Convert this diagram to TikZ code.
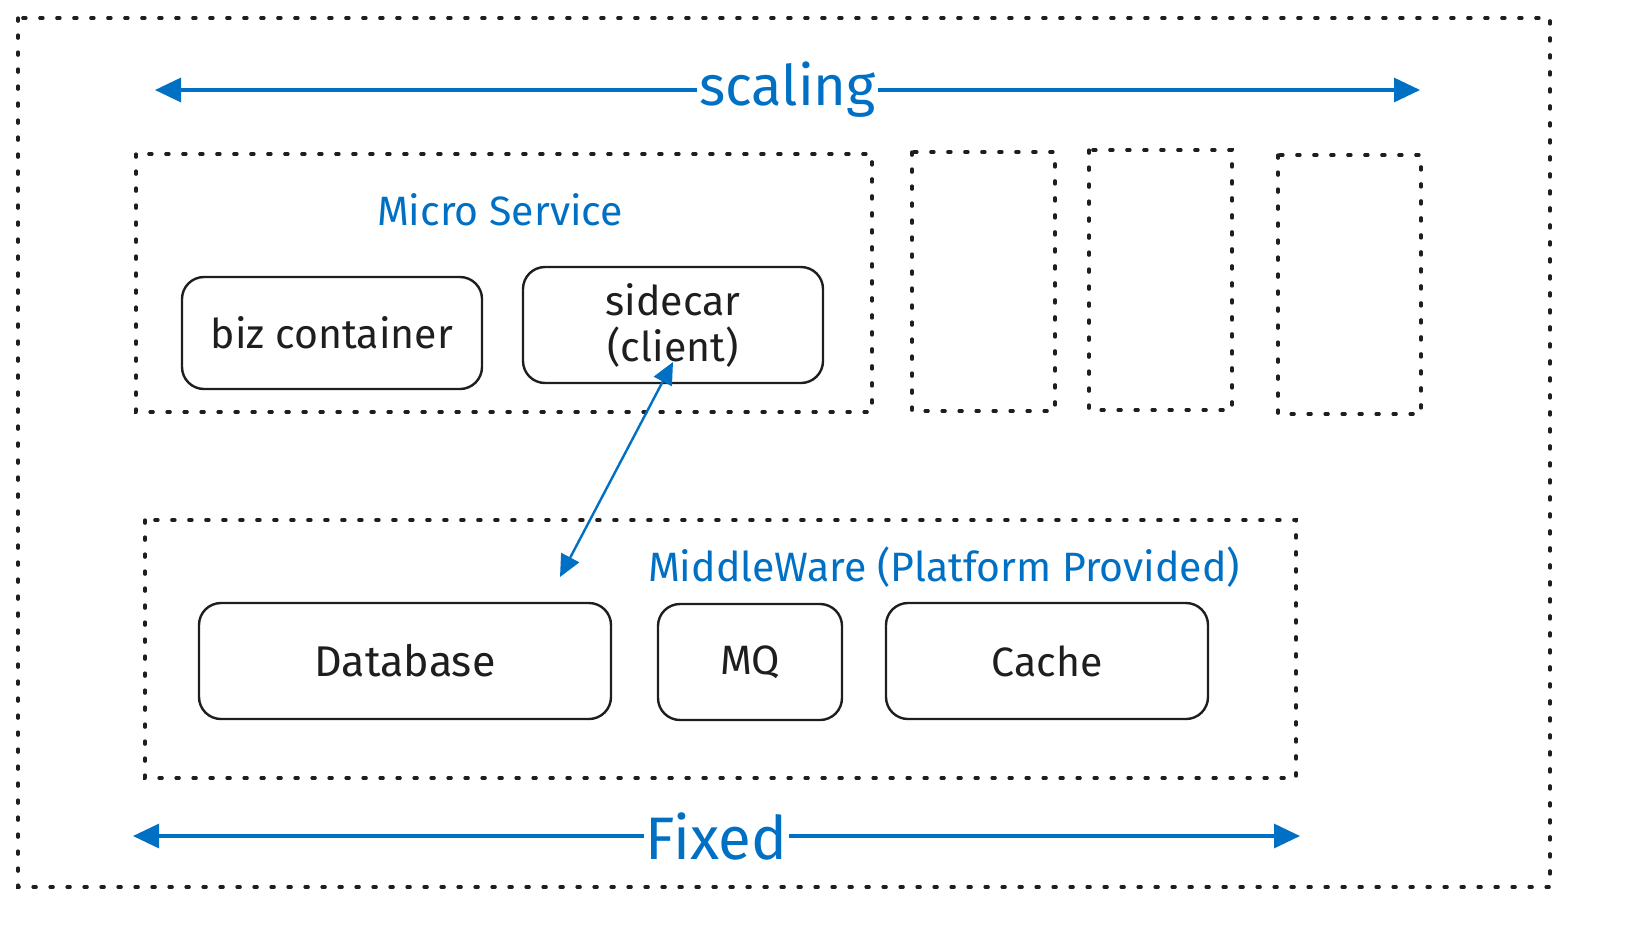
\documentclass[tikz,border=0pt]{standalone}
\usepackage{fontspec}
\setmainfont{Fira Sans}
\usetikzlibrary{arrows.meta}
\definecolor{exblue}{RGB}{0,112,196}
\definecolor{exink}{RGB}{30,30,30}
\tikzset{
  x=0.5pt, y=-0.5pt,
  dotbox/.style={draw=exink, line width=1.6pt, dash pattern=on 1.6pt off 6.9pt, line cap=round},
  compbox/.style={draw=exink, line width=1.2pt, rounded corners=11pt},
  comptext/.style={font=\fontsize{20.5}{23}\selectfont, text=exink, align=center},
  bluelabel/.style={font=\fontsize{20.5}{24}\selectfont, text=exblue},
  bigarrow/.style={draw=exblue, line width=1.6pt, {Triangle[length=13pt,width=12pt]}-{Triangle[length=13pt,width=12pt]}},
  arrowlabel/.style={font=\fontsize{28}{31}\selectfont, text=exblue, fill=white, inner sep=1pt},
  linkarrow/.style={draw=exblue, line width=1.2pt, {Triangle[length=11pt,width=10pt]}-{Triangle[length=11pt,width=10pt]}},
}
\begin{document}
\begin{tikzpicture}
\useasboundingbox (0,0) rectangle (1631,942);
% outer frame
\draw[dotbox] (18,18) rectangle (1550,887);
% scaling arrow
\coordinate (sL) at (155,90);
\coordinate (sR) at (1420,90);
\draw[bigarrow] (sL) -- (sR) node[arrowlabel, pos=0.5] (scaling) {scaling};
% micro service group
\draw[dotbox] (136,154) rectangle (872,412);
\node[bluelabel] (mslabel) at (500,210) {Micro Service};
\draw[dotbox] (912,152) rectangle (1055,411);
\draw[dotbox] (1089,150) rectangle (1232,410);
\draw[dotbox] (1278,155) rectangle (1421,414);
\node[compbox, comptext, minimum width=150pt, minimum height=56pt] (biz) at (332,333) {biz container};
\node[compbox, comptext, minimum width=150pt, minimum height=58pt] (sidecar) at (673,325) {sidecar\\(client)};
% middleware group
\draw[dotbox] (145,520) rectangle (1296,778);
\node[bluelabel] (mwlabel) at (944,567) {MiddleWare (Platform Provided)};
\node[compbox, comptext, font=\fontsize{21.5}{24}\selectfont, minimum width=206pt, minimum height=58pt] (db) at (405,661) {Database};
\node[compbox, comptext, minimum width=92pt, minimum height=58pt] (mq) at (750,662) {MQ};
\node[compbox, comptext, minimum width=161pt, minimum height=58pt] (cache) at (1047,661) {Cache};
% link arrow
\coordinate (lA) at (673,362);
\coordinate (lB) at (560,577);
\draw[linkarrow] (lA) -- (lB);
% fixed arrow
\coordinate (fL) at (133,836);
\coordinate (fR) at (1300,836);
\draw[bigarrow] (fL) -- (fR) node[arrowlabel, font=\fontsize{30}{33}\selectfont, pos=0.5] (fixed) {Fixed};
\end{tikzpicture}
\end{document}
